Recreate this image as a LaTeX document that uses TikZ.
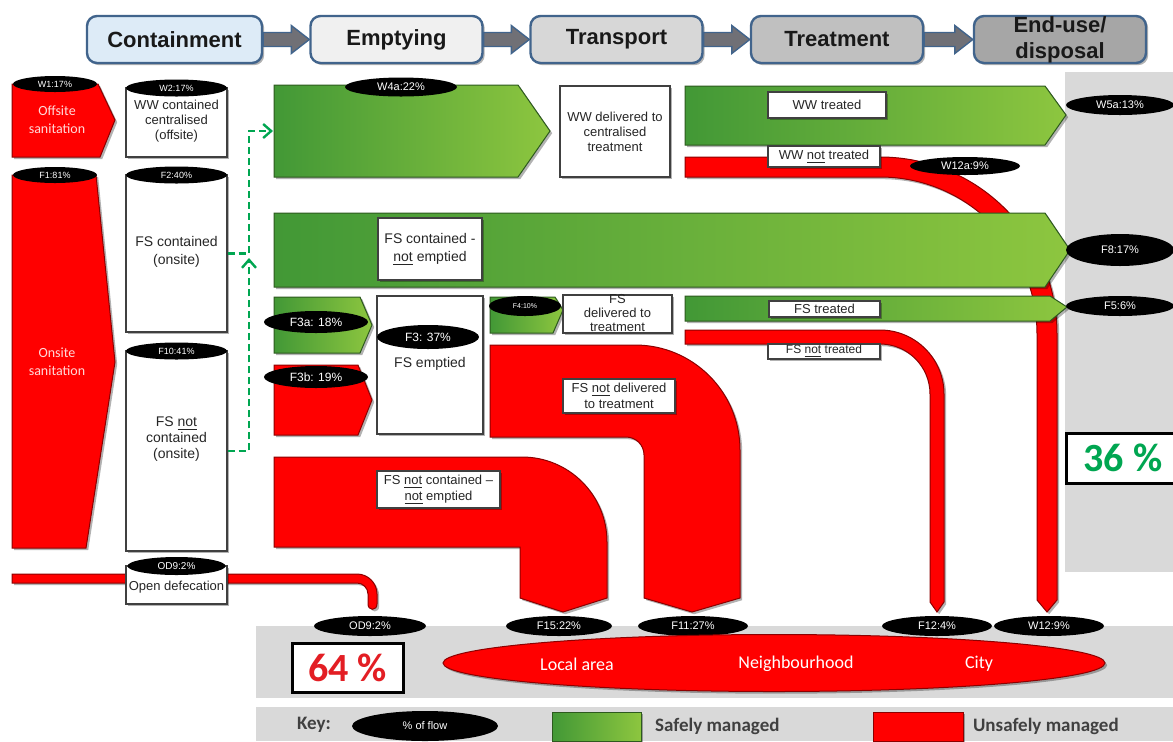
\documentclass[tikz,border=0pt]{standalone}
\usepackage{fontspec}
\setmainfont{Liberation Sans}
\newfontfamily\calib{Carlito}
\usetikzlibrary{shapes.geometric,arrows.meta,shadows,calc}
\definecolor{gdark}{RGB}{66,152,54}
\definecolor{glight}{RGB}{141,198,63}
\definecolor{rred}{RGB}{255,0,0}
\definecolor{redline}{RGB}{140,0,0}
\definecolor{greenline}{RGB}{45,90,30}
\definecolor{panel}{RGB}{217,217,217}
\definecolor{hdrline}{RGB}{65,100,140}
\definecolor{harr}{RGB}{112,112,118}
\definecolor{hblue}{RGB}{221,235,247}
\definecolor{hgA}{RGB}{240,240,240}
\definecolor{hgB}{RGB}{215,215,215}
\definecolor{hgC}{RGB}{192,192,192}
\definecolor{hgD}{RGB}{166,166,166}
\definecolor{dashgreen}{RGB}{0,166,81}
\definecolor{pctred}{RGB}{227,30,36}
\definecolor{pctgreen}{RGB}{0,166,81}
\definecolor{keytext}{RGB}{64,64,64}
\begin{document}
\begin{tikzpicture}[x=0.5pt,y=-0.5pt,
  shad/.style={drop shadow={shadow xshift=1.1pt,shadow yshift=-1.1pt,opacity=0.3,fill=black}},
  redshape/.style={fill=rred,draw=redline,line width=0.5pt,shad},
  greenshape/.style={left color=gdark,right color=glight,draw=greenline,line width=0.5pt,shad},
  wbox/.style={draw=black!75,fill=white,line width=0.6pt,inner sep=0pt,align=center,text=black!85,font=\fontsize{6.5}{7.5}\selectfont,shad},
  btext/.style={inner sep=0pt,align=center,text=black!85,font=\fontsize{6.5}{7.5}\selectfont},
  lab/.style={ellipse,fill=black,text=white,inner sep=0pt,font=\fontsize{4.5}{5}\selectfont},
  labm/.style={lab,font=\fontsize{5.5}{6}\selectfont},
  hdr/.style={rounded corners=5pt,draw=hdrline,line width=1.2pt,inner sep=0pt,align=center,text=black!90,font=\bfseries\fontsize{11}{13}\selectfont,minimum width=86pt,minimum height=23.5pt,shad},
  harrow/.style={fill=harr,draw=hdrline,line width=0.7pt},
  dflow/.style={draw=dashgreen,line width=1.2pt,dash pattern=on 3.5pt off 2pt,-{Straight Barb[length=4pt,width=7pt,line width=1.2pt]}},
  ctext/.style={font=\calib\fontsize{7}{9}\selectfont,text=white!85!red,align=center},
  ltext/.style={font=\calib\fontsize{9}{11}\selectfont,text=white},
  keyt/.style={font=\calib\bfseries\fontsize{9.5}{11}\selectfont,text=keytext,anchor=west},
  pct/.style={draw=black,line width=1.5pt,fill=white,inner sep=0pt,font=\calib\bfseries\fontsize{20}{22}\selectfont}
]
\path[use as bounding box] (0,0) rectangle (1173,741);
\clip (0,0) rectangle (1173,741);
\fill[white] (0,0) rectangle (1173,741);

% grey panels
\fill[panel] (1065,72) rectangle (1173,572);
\fill[panel] (256,626) rectangle (1173,698);
\fill[panel] (256,707) rectangle (1173,741);

% header
\node[hdr,fill=hblue,minimum width=87.5pt] (hc) at (174.5,39.5) {Containment};
\node[hdr,fill=hgA] (he) at (396.5,39.5) {Emptying};
\node[hdr,fill=hgB] (ht) at (616.5,39.5) {Transport};
\node[hdr,fill=hgC] (htr) at (837,39.5) {Treatment};
\node[hdr,fill=hgD] (hd) at (1060,39.5) {End-use/\\disposal};
\foreach \a/\b in {hc/he,he/ht,ht/htr,htr/hd}{
  \filldraw[harrow] ($(\a.east)+(0,-7)$) -- ($(\b.west)+(-18,-7)$) -- ($(\b.west)+(-18,-14)$) -- (\b.west) -- ($(\b.west)+(-18,14)$) -- ($(\b.west)+(-18,7)$) -- ($(\a.east)+(0,7)$) -- cycle;
}

% left column
\path[redshape] (12,84) -- (98,84) -- (115,120) -- (100,157) -- (12,157) -- cycle;
\node[ctext] (offs) at (57,120) {Offsite\\sanitation};
\path[redshape] (12,175) -- (96,175) -- (115,362) -- (86,548) -- (12,548) -- cycle;
\node[ctext] (ons) at (57,362) {Onsite\\sanitation};

% open defecation line
\path[redshape] (12,574) -- (357,574) .. controls (368,574) and (377,583) .. (377,594) -- (377,604) .. controls (377,611) and (368,611) .. (368,604) -- (368,594) .. controls (368,588) and (363,583) .. (357,583) -- (12,583) -- cycle;

\node[wbox,minimum width=50.5pt,minimum height=34.5pt] (w2) at (176.5,122.5) {};
\node[btext] (w2t) at (176.5,121) {WW contained\\centralised\\(offsite)};
\node[wbox,minimum width=50.5pt,minimum height=78.5pt] (f2) at (176.5,253.5) {};
\node[btext,font=\fontsize{7}{9}\selectfont] (f2t) at (176.5,252) {FS contained\\(onsite)};
\node[wbox,minimum width=50.5pt,minimum height=100pt] (f10) at (176.5,451) {};
\node[btext,font=\fontsize{7}{8}\selectfont] (f10t) at (176.5,439) {FS \underline{not}\\contained\\(onsite)};
\node[wbox,minimum width=50.5pt,minimum height=19pt] (od) at (176.5,585) {};
\node[btext] (odt) at (176.5,587) {Open defecation};

% red flows behind
\path[redshape] (685,157) -- (880,157) .. controls (977.8,157) and (1057,236.2) .. (1057,334) -- (1057,600) -- (1047,612) -- (1037,600) -- (1037,334) .. controls (1037,247.3) and (966.7,177) .. (880,177) -- (685,177) -- cycle;
\path[redshape] (685,330) -- (880,330) .. controls (915.3,330) and (944,358.7) .. (944,394) -- (944,602) -- (937,612) -- (930,602) -- (930,394) .. controls (930,366.4) and (907.6,344) .. (880,344) -- (685,344) -- cycle;

% green flows
\path[greenshape] (274,85) -- (518,85) -- (550,131) -- (518,177) -- (274,177) -- cycle;
\path[greenshape] (685,86) -- (1045,86) -- (1066,115) -- (1045,145) -- (685,145) -- cycle;
\path[greenshape] (274,213) -- (1045,213) -- (1070,250) -- (1045,287) -- (274,287) -- cycle;
\path[greenshape] (685,296) -- (1050,296) -- (1067,307) -- (1050,321) -- (685,321) -- cycle;
\path[greenshape] (274,297) -- (360,297) -- (372,325) -- (360,353) -- (274,353) -- cycle;
\path[greenshape] (490,297) -- (555,297) -- (563,310) -- (553,333) -- (490,333) -- cycle;

% red flows
\path[redshape] (274,365) -- (358,365) -- (372,400) -- (358,435) -- (274,435) -- cycle;
\path[redshape] (490,345) -- (635,345) .. controls (693,345) and (740,392) .. (740,450) -- (740,598) -- (692,612) -- (644,598) -- (644,455) .. controls (644,445) and (636,437) .. (626,437) -- (490,437) -- cycle;
\path[redshape] (274,457) -- (522,457) .. controls (569,457) and (607,495) .. (607,542) -- (607,598) -- (563,612) -- (520,598) -- (520,547) -- (274,547) -- cycle;

% dashed connectors
\coordinate (dtip) at (249,258);
\coordinate (dtop) at (249,131);
\coordinate (w4aw) at (273,131);
\draw[dflow] (f10.east) -| (dtip);
\draw[dflow] (f2.east) -| (dtop) -- (w4aw);

% white label boxes
\node[wbox,minimum width=55pt,minimum height=45.5pt] (wwdel) at (615,131.5) {WW delivered to\\centralised\\treatment};
\node[wbox,minimum width=59pt,minimum height=13pt] (wwtr) at (827,105) {WW treated};
\node[wbox,minimum width=56pt,minimum height=10.5pt] (wwnt) at (824,156.5) {WW \underline{not} treated};
\node[wbox,minimum width=52pt,minimum height=31pt,font=\fontsize{7}{9}\selectfont] (fsne) at (430,249) {FS contained -\\\underline{not} emptied};
\node[wbox,minimum width=53pt,minimum height=69pt] (f3) at (430,365) {};
\node[btext,font=\fontsize{7}{9}\selectfont] (f3t) at (430,364) {FS emptied};
\node[wbox,minimum width=54.5pt,minimum height=19pt] (fsdel) at (617.5,314) {};
\node[btext,font=\fontsize{6.5}{7}\selectfont] (fsdelt) at (617.5,313) {FS\\delivered to\\treatment};
\node[wbox,minimum width=55.5pt,minimum height=8pt] (fstr) at (824.5,309) {FS treated};
\node[wbox,minimum width=56pt,minimum height=7.5pt,font=\fontsize{6}{7}\selectfont] (fsnt) at (824,351.5) {FS \underline{not} treated};
\node[wbox,minimum width=56pt,minimum height=17pt,font=\fontsize{6.5}{8}\selectfont] (fsnd) at (619,396) {FS \underline{not} delivered\\to treatment};
\node[wbox,minimum width=61.5pt,minimum height=18.5pt,font=\fontsize{6.5}{8}\selectfont] (fsnc) at (438.5,489.5) {FS \underline{not} contained --\\\underline{not} emptied};

% percentage ellipses
\node[lab,minimum width=42pt,minimum height=8pt] (w1) at (55,84) {W1:17\%};
\node[lab,minimum width=50.5pt,minimum height=8.5pt] (w2l) at (176.5,88) {W2:17\%};
\node[lab,minimum width=42pt,minimum height=8pt] (f1) at (55,175) {F1:81\%};
\node[lab,minimum width=50.5pt,minimum height=8.5pt] (f2l) at (176.5,175) {F2:40\%};
\node[lab,minimum width=50.5pt,minimum height=8.5pt] (f10l) at (176.5,351) {F10:41\%};
\node[lab,minimum width=49pt,minimum height=9pt,font=\fontsize{5}{6}\selectfont] (od9a) at (176.5,566) {OD9:2\%};
\node[labm,minimum width=56pt,minimum height=9.5pt] (w4a) at (401,87) {W4a:22\%};
\node[labm,minimum width=55pt,minimum height=9pt] (w12a) at (965,166) {W12a:9\%};
\node[labm,minimum width=54pt,minimum height=10pt] (w5a) at (1120,105) {W5a:13\%};
\node[labm,minimum width=54pt,minimum height=16pt] (f8) at (1120,250) {F8:17\%};
\node[labm,minimum width=54pt,minimum height=10pt] (f5) at (1120,306) {F5:6\%};
\node[lab,minimum width=52pt,minimum height=11pt,font=\fontsize{6}{7}\selectfont] (f3a) at (316,322) {F3a: 18\%};
\node[lab,minimum width=52pt,minimum height=11pt,font=\fontsize{6}{7}\selectfont] (f3b) at (316,377) {F3b: 19\%};
\node[lab,minimum width=51pt,minimum height=12pt,font=\fontsize{6}{7}\selectfont] (f3l) at (428,337) {F3: 37\%};
\node[lab,minimum width=36pt,minimum height=10pt,font=\fontsize{3.5}{4}\selectfont] (f4) at (525,306) {F4:10\%};
\node[labm,minimum width=56pt,minimum height=10pt] (od9b) at (370,626) {OD9:2\%};
\node[labm,minimum width=53pt,minimum height=10pt] (f15) at (559,626) {F15:22\%};
\node[labm,minimum width=55pt,minimum height=10pt] (f11) at (693,626) {F11:27\%};
\node[labm,minimum width=55pt,minimum height=10pt] (f12) at (937,626) {F12:4\%};
\node[labm,minimum width=55pt,minimum height=10pt] (w12) at (1049,626) {W12:9\%};

% receiving environment
\node[ellipse,redshape,minimum width=331pt,minimum height=28.5pt,inner sep=0pt] (area) at (774,663) {};
\node[ltext] (loc) at (577,664) {Local area};
\node[ltext] (nbh) at (796,664) {Neighbourhood};
\node[ltext] (city) at (979,664) {City};

% totals
\node[pct,minimum width=55.5pt,minimum height=24.5pt,text=pctred] (p64) at (347.5,667.5) {64 \%};
\node[pct,minimum width=57pt,minimum height=25pt,text=pctgreen] (p36) at (1123,458) {36 \%};

% key
\node[keyt] (key) at (290,725) {Key:};
\node[lab,minimum width=73pt,minimum height=15pt,font=\fontsize{5.5}{6}\selectfont] (kflow) at (425,726) {\% of flow};
\node[greenshape,minimum width=44.5pt,minimum height=14.5pt,inner sep=0pt] (kgreen) at (596.5,726.5) {};
\node[keyt] (ksafe) at (648,726) {Safely managed};
\node[redshape,minimum width=45pt,minimum height=14.5pt,inner sep=0pt] (kred) at (918,726.5) {};
\node[keyt] (kunsafe) at (966,726) {Unsafely managed};
\end{tikzpicture}
\end{document}
